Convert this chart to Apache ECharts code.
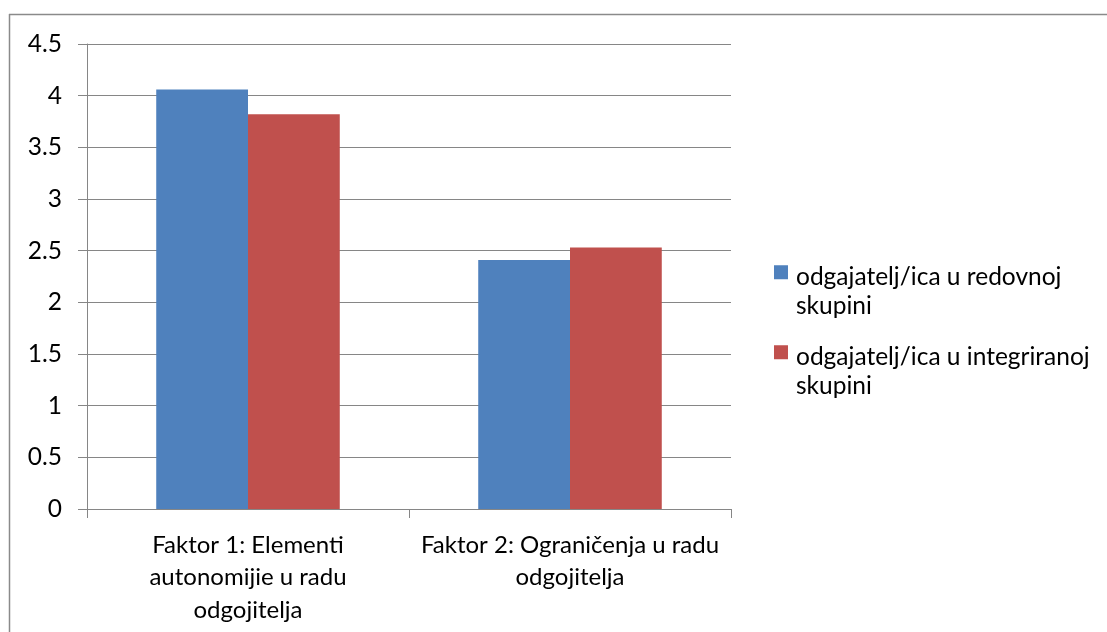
<!DOCTYPE html>
<html>
<head>
<meta charset="utf-8">
<script src="https://cdn.jsdelivr.net/npm/echarts@6/dist/echarts.min.js"></script>
<style>
html,body{margin:0;padding:0;background:#fff;}
#chart{width:1107px;height:632px;}
</style>
</head>
<body>
<div id="chart"></div>
<script>
const categories = [
  "Faktor 1: Elementi\nautonomijie u radu\nodgojitelja",
  "Faktor 2: Ograničenja u radu\nodgojitelja"
];
const seriesNames = [
  "odgajatelj/ica u redovnoj skupini",
  "odgajatelj/ica u integriranoj skupini"
];
const redovnaValues = [4.06, 2.41];
const integriranaValues = [3.82, 2.53];
const yTicks = [0, 0.5, 1, 1.5, 2, 2.5, 3, 3.5, 4, 4.5];

const FONT = 'Lato';
// legend icon: visible square at top-left, invisible speck extends the box so the
// square lines up with the first text line and leaves a gap before the text
const LEGEND_ICON = 'path://M0,0L14,0L14,14L0,14Z M17,52.5L17.01,52.5L17.01,52.51L17,52.51Z';

const chart = echarts.init(document.getElementById('chart'));
chart.setOption({
  animation: false,
  backgroundColor: '#ffffff',
  textStyle: { fontFamily: FONT },
  graphic: [
    { type: 'line', shape: { x1: 9.5, y1: 14, x2: 9.5, y2: 640 }, style: { stroke: '#8a8a8a', lineWidth: 1.5 } },
    { type: 'line', shape: { x1: 9, y1: 14.5, x2: 1110, y2: 14.5 }, style: { stroke: '#8a8a8a', lineWidth: 1.5 } }
  ],
  grid: { left: 87, top: 44, width: 644, height: 465, containLabel: false },
  legend: {
    orient: 'vertical',
    left: 774,
    top: 262,
    padding: 0,
    itemWidth: 17,
    itemHeight: 52.5,
    itemGap: 21,
    icon: LEGEND_ICON,
    data: seriesNames,
    formatter: function (name) {
      const i = name.lastIndexOf(' ');
      return name.slice(0, i) + '\n' + name.slice(i + 1);
    },
    textStyle: { fontFamily: FONT, fontSize: 24.5, color: '#000', lineHeight: 29.5 }
  },
  xAxis: {
    type: 'category',
    data: categories,
    axisLine: { show: true, lineStyle: { color: '#868686', width: 1 } },
    axisTick: { show: true, length: 9, lineStyle: { color: '#868686' } },
    axisLabel: { color: '#000', fontSize: 24, lineHeight: 32.5, margin: 20, fontFamily: FONT, interval: 0 },
    splitLine: { show: false }
  },
  yAxis: {
    type: 'value',
    min: 0,
    max: 4.5,
    interval: 0.5,
    axisLine: { show: true, lineStyle: { color: '#868686', width: 1 } },
    axisTick: { show: true, length: 9, lineStyle: { color: '#868686' } },
    axisLabel: { color: '#000', fontSize: 24.5, margin: 25, fontFamily: FONT,
      formatter: function (v) { return yTicks.indexOf(v) >= 0 ? String(v) : ''; } },
    splitLine: { show: true, lineStyle: { color: '#868686', width: 1 } }
  },
  series: [
    { name: seriesNames[0], type: 'bar', data: redovnaValues, barGap: '0%', barCategoryGap: '43%',
      itemStyle: { color: '#4F81BD' } },
    { name: seriesNames[1], type: 'bar', data: integriranaValues, barGap: '0%', barCategoryGap: '43%',
      itemStyle: { color: '#C0504D' } }
  ]
});
</script>
</body>
</html>
